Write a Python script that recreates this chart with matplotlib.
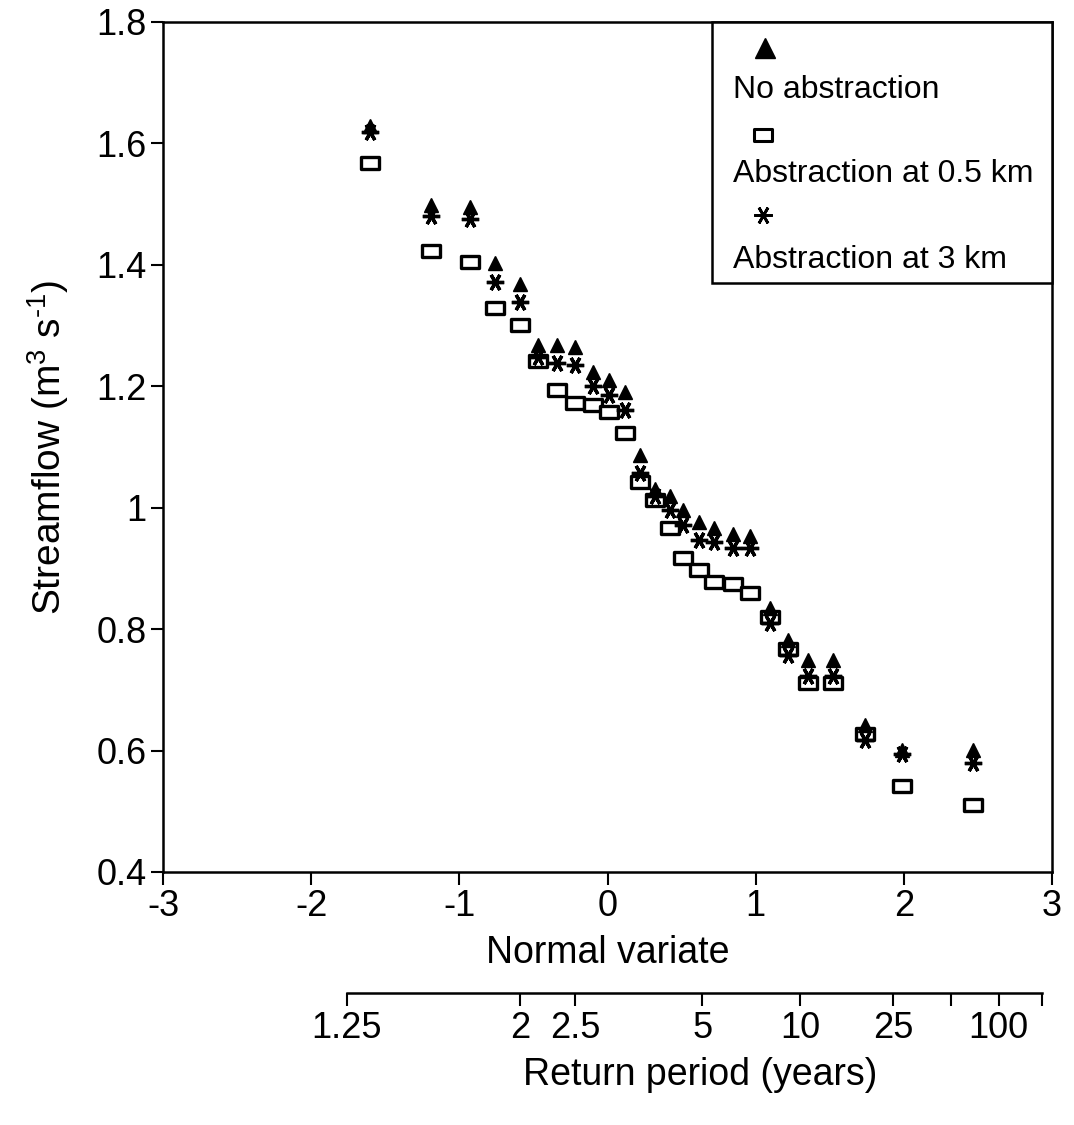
import matplotlib
matplotlib.use("Agg")
import matplotlib.pyplot as plt
from matplotlib.path import Path
from matplotlib.patches import Rectangle

plt.rcParams['font.family'] = ['Liberation Sans', 'DejaVu Sans']
plt.rcParams['mathtext.fontset'] = 'custom'
plt.rcParams['mathtext.rm'] = 'Liberation Sans'
plt.rcParams['mathtext.it'] = 'Liberation Sans'
plt.rcParams['mathtext.default'] = 'regular'

# ---- data ----
normal_variate = [-1.60, -1.19, -0.93, -0.76, -0.59, -0.47, -0.34, -0.22, -0.10, 0.01,
                  0.115, 0.22, 0.32, 0.42, 0.51, 0.615, 0.716, 0.85, 0.96, 1.10,
                  1.22, 1.35, 1.52, 1.74, 1.99, 2.47]
no_abstraction = [1.628, 1.499, 1.495, 1.403, 1.368, 1.268, 1.268, 1.265, 1.224, 1.211,
                  1.191, 1.087, 1.030, 1.020, 0.996, 0.977, 0.966, 0.957, 0.953, 0.834,
                  0.782, 0.749, 0.749, 0.642, 0.601, 0.601]
abstraction_05km = [1.567, 1.422, 1.404, 1.329, 1.301, 1.241, 1.194, 1.172, 1.169, 1.158,
                    1.123, 1.043, 1.012, 0.967, 0.917, 0.897, 0.878, 0.875, 0.860, 0.820,
                    0.768, 0.711, 0.711, 0.628, 0.541, 0.510]
abstraction_3km = [1.618, 1.480, 1.476, 1.372, 1.338, 1.248, 1.238, 1.235, 1.200, 1.186,
                   1.161, 1.057, 1.020, 0.996, 0.972, 0.947, 0.944, 0.933, 0.933, 0.810,
                   0.757, 0.722, 0.722, 0.617, 0.595, 0.579]

series_labels = ["No abstraction", "Abstraction at 0.5 km", "Abstraction at 3 km"]

x_ticks = [-3, -2, -1, 0, 1, 2, 3]
x_ticklabels = ["-3", "-2", "-1", "0", "1", "2", "3"]
y_ticks = [0.4, 0.6, 0.8, 1.0, 1.2, 1.4, 1.6, 1.8]
y_ticklabels = ["0.4", "0.6", "0.8", "1", "1.2", "1.4", "1.6", "1.8"]

# return period axis (positions on the normal-variate scale as drawn)
rp_tick_pos = [-1.76, -0.59, -0.22, 0.64, 1.30, 1.93, 2.32, 2.64, 2.93]
rp_tick_labels = ["1.25", "2", "2.5", "5", "10", "25", "", "100", ""]

# ---- markers ----
rect_verts = [(-0.75, -0.5), (0.75, -0.5), (0.75, 0.5), (-0.75, 0.5), (-0.75, -0.5)]
rect_marker = Path(rect_verts, [Path.MOVETO, Path.LINETO, Path.LINETO, Path.LINETO, Path.CLOSEPOLY])
star_marker = (6, 2, 90)

fig = plt.figure(figsize=(10.74, 11.25), dpi=100)
ax = fig.add_axes([0.1518, 0.2249, 0.8277, 0.7556])

ax.plot(normal_variate, abstraction_05km, linestyle='none', marker=rect_marker,
        markersize=12.5, markerfacecolor='white', markeredgecolor='black',
        markeredgewidth=2.4, zorder=3)
ax.plot(normal_variate, abstraction_3km, linestyle='none', marker=star_marker,
        markersize=12.5, markeredgecolor='black', markeredgewidth=2.4, zorder=4)
ax.plot(normal_variate, no_abstraction, linestyle='none', marker='^',
        markersize=10, color='black', zorder=5)

ax.set_xlim(-3, 3)
ax.set_ylim(0.4, 1.8)
ax.set_xticks(x_ticks)
ax.set_xticklabels(x_ticklabels)
ax.set_yticks(y_ticks)
ax.set_yticklabels(y_ticklabels)
ax.tick_params(axis='both', direction='out', length=9, width=1.5, labelsize=26, pad=3)
for s in ax.spines.values():
    s.set_linewidth(1.8)

ax.set_xlabel("Normal variate", fontsize=27, labelpad=8)
ax.set_ylabel("Streamflow (m$^{3}$ s$^{\\text{-}1}$)", fontsize=28, labelpad=18)

# ---- legend (drawn by hand: marker on one line, label below) ----
ax.add_patch(Rectangle((0.6175, 0.693), 0.3825, 0.307, transform=ax.transAxes,
                       facecolor='white', edgecolor='black', linewidth=1.8, zorder=6,
                       clip_on=False))
leg_y_marker = [0.969, 0.867, 0.773]
leg_y_text = [0.920, 0.8215, 0.720]
ax.plot([0.677], [leg_y_marker[0]], transform=ax.transAxes, marker='^', markersize=14,
        color='black', linestyle='none', zorder=7, clip_on=False)
ax.plot([0.675], [leg_y_marker[1]], transform=ax.transAxes, marker=rect_marker,
        markersize=13, markerfacecolor='white', markeredgecolor='black',
        markeredgewidth=2.2, linestyle='none', zorder=7, clip_on=False)
ax.plot([0.675], [leg_y_marker[2]], transform=ax.transAxes, marker=star_marker,
        markersize=13, markeredgecolor='black', markeredgewidth=2.0, linestyle='none',
        zorder=7, clip_on=False)
for lab, yy in zip(series_labels, leg_y_text):
    ax.text(0.641, yy, lab, transform=ax.transAxes, fontsize=23, va='center',
            ha='left', zorder=7)

# ---- return period axis ----
ax2 = fig.add_axes([0.1518, 0.1173, 0.8277, 0.0001])
ax2.set_xlim(-3, 3)
ax2.set_yticks([])
for side in ['top', 'left', 'right']:
    ax2.spines[side].set_visible(False)
ax2.spines['bottom'].set_bounds(rp_tick_pos[0], rp_tick_pos[-1])
ax2.spines['bottom'].set_linewidth(1.8)
ax2.patch.set_visible(False)
ax2.set_xticks(rp_tick_pos)
ax2.set_xticklabels(rp_tick_labels)
ax2.tick_params(axis='x', direction='out', length=9, width=1.5, labelsize=26, pad=4)
ax2.set_xlabel("Return period (years)", fontsize=27, labelpad=8)
ax2.xaxis.label.set_x(0.604)

fig.savefig("out.png", dpi=100)
